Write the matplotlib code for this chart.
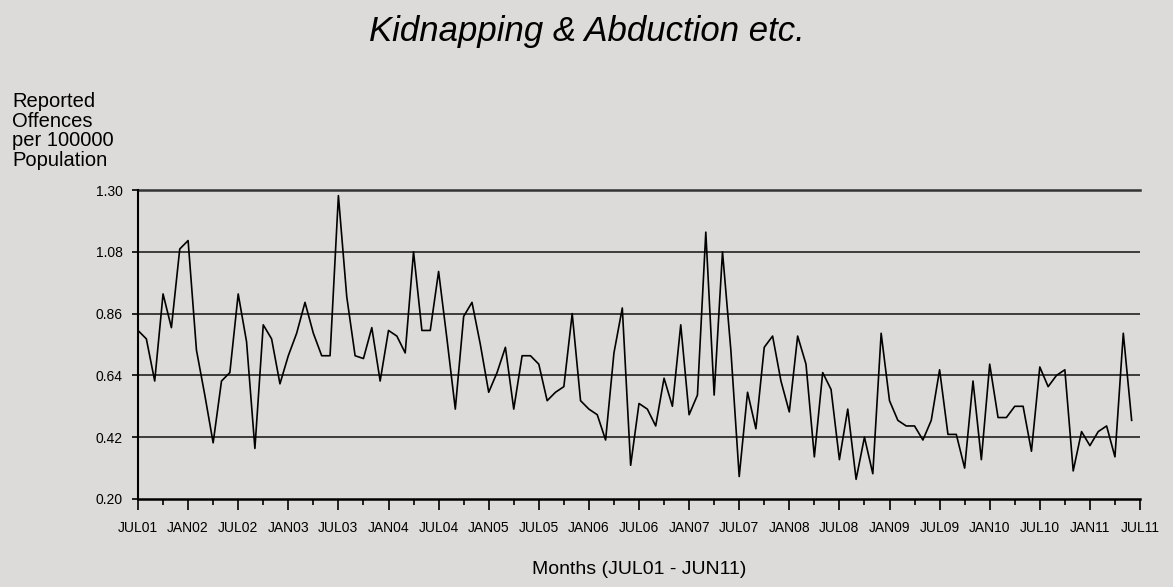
import numpy as np
import matplotlib
matplotlib.use("Agg")
import matplotlib.pyplot as plt
from matplotlib.ticker import FixedLocator

plt.rcParams['font.family'] = ['Liberation Sans', 'DejaVu Sans']

# monthly rate, JUL01 .. JUN11
rate = [
    0.80, 0.77, 0.62, 0.93, 0.81, 1.09, 1.12, 0.73, 0.57, 0.40, 0.62, 0.65,
    0.93, 0.76, 0.38, 0.82, 0.77, 0.61, 0.71, 0.79, 0.90, 0.79, 0.71, 0.71,
    1.28, 0.92, 0.71, 0.70, 0.81, 0.62, 0.80, 0.78, 0.72, 1.08, 0.80, 0.80,
    1.01, 0.77, 0.52, 0.85, 0.90, 0.75, 0.58, 0.65, 0.74, 0.52, 0.71, 0.71,
    0.68, 0.55, 0.58, 0.60, 0.86, 0.55, 0.52, 0.50, 0.41, 0.72, 0.88, 0.32,
    0.54, 0.52, 0.46, 0.63, 0.53, 0.82, 0.50, 0.57, 1.15, 0.57, 1.08, 0.73,
    0.28, 0.58, 0.45, 0.74, 0.78, 0.62, 0.51, 0.78, 0.68, 0.35, 0.65, 0.59,
    0.34, 0.52, 0.27, 0.42, 0.29, 0.79, 0.55, 0.48, 0.46, 0.46, 0.41, 0.48,
    0.66, 0.43, 0.43, 0.31, 0.62, 0.34, 0.68, 0.49, 0.49, 0.53, 0.53, 0.37,
    0.67, 0.60, 0.64, 0.66, 0.30, 0.44, 0.39, 0.44, 0.46, 0.35, 0.79, 0.48,
]
month_labels = ["JUL01", "JAN02", "JUL02", "JAN03", "JUL03", "JAN04", "JUL04",
                "JAN05", "JUL05", "JAN06", "JUL06", "JAN07", "JUL07", "JAN08",
                "JUL08", "JAN09", "JUL09", "JAN10", "JUL10", "JAN11", "JUL11"]
yticks = [0.20, 0.42, 0.64, 0.86, 1.08, 1.30]

bg = "#dcdbd9"
fig = plt.figure(figsize=(11.73, 5.87), dpi=100, facecolor=bg)
ax = fig.add_axes([138/1173, 88/587, 1002/1173, 309/587], facecolor=bg)

x = np.arange(len(rate))
ax.plot(x, rate, color="black", lw=1.2, zorder=3)

ax.set_xlim(0, 120)
ax.set_ylim(0.20, 1.30)

ax.set_yticks(yticks)
ax.set_yticklabels([f"{v:.2f}" for v in yticks])
for v in yticks[1:-1]:
    ax.axhline(v, color="#111111", lw=1.1, zorder=1)
ax.axhline(1.30, color="#333333", lw=1.8, zorder=1, clip_on=False)

ax.xaxis.set_major_locator(FixedLocator(np.arange(0, 121, 6)))
ax.xaxis.set_minor_locator(FixedLocator(np.arange(3, 121, 6)))
ax.set_xticklabels(month_labels)
ax.tick_params(axis="x", which="major", length=8, width=1.2, direction="out",
               labelsize=10, pad=8, color="black")
ax.tick_params(axis="x", which="minor", length=4, width=1.2, direction="out",
               color="black")
ax.tick_params(axis="y", length=4.5, width=1.2, direction="out", labelsize=10,
               pad=6.5, color="black")

for s in ["top", "right"]:
    ax.spines[s].set_visible(False)
ax.spines["left"].set_linewidth(1.5)
ax.spines["bottom"].set_linewidth(1.8)

fig.text(0.5, 1 - 31/587, "Kidnapping & Abduction etc.", ha="center",
         va="center", fontsize=25, style="italic")
fig.text(12/1173, 1 - 92/587, "Reported\nOffences\nper 100000\nPopulation",
         ha="left", va="top", fontsize=14.5, linespacing=1.05)
fig.text(639/1173, 1 - 570/587, "Months (JUL01 - JUN11)", ha="center",
         va="center", fontsize=14)

fig.savefig("out.png", dpi=100, facecolor=bg)
